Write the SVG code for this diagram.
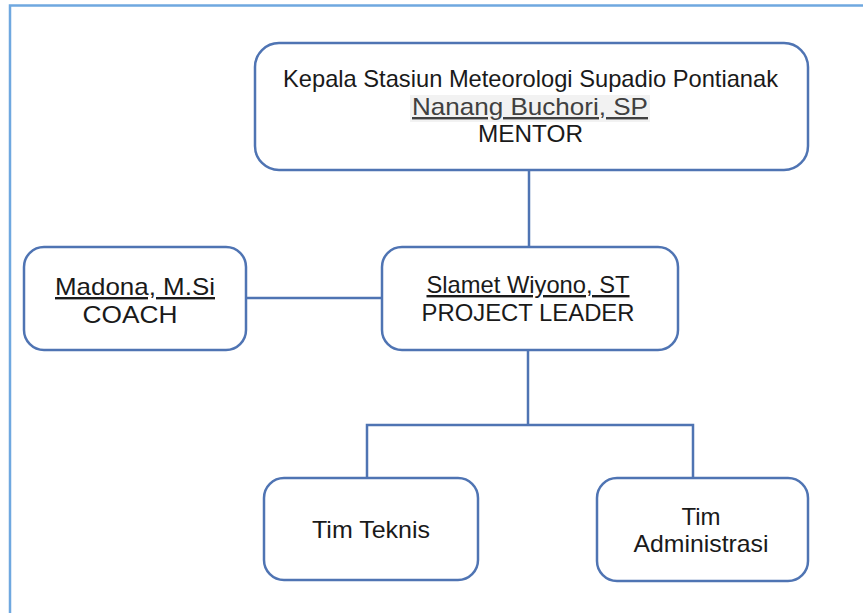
<svg xmlns="http://www.w3.org/2000/svg" width="863" height="613" viewBox="0 0 863 613">
  <style>
    .frame { stroke: #6fa8e0; stroke-width: 2.5; fill: none; }
    .box { fill: #ffffff; stroke: #4f74b3; stroke-width: 2.5; }
    .link { stroke: #4f74b3; stroke-width: 2.5; fill: none; }
    text { font-family: "Liberation Sans", Arial, sans-serif; font-size: 24px; fill: #1a1a1a; text-anchor: middle; }
    .name { text-decoration: underline; }
    .grey { fill: #404040; }
  </style>
  <rect x="0" y="0" width="863" height="613" fill="#ffffff"/>
  <!-- page frame: top and left edges only -->
  <path class="frame" d="M10 613 V5.5 H863"/>

  <g id="connectors">
    <path class="link" d="M529 170 V247"/>
    <path class="link" d="M247 298 H382"/>
    <path class="link" d="M528 350 V425"/>
    <path class="link" d="M367 478 V425 H693 V478"/>
  </g>

  <g id="mentor">
    <rect class="box" x="255" y="43" width="553" height="127" rx="24"/>
    <text x="530.5" y="87" textLength="495" lengthAdjust="spacingAndGlyphs">Kepala Stasiun Meteorologi Supadio Pontianak</text>
    <rect x="410" y="95" width="240" height="27" fill="#f2f2f2"/>
    <text class="name grey" x="530" y="115" font-size="25" textLength="236" lengthAdjust="spacingAndGlyphs">Nanang Buchori, SP</text>
    <text x="530.5" y="142" textLength="105" lengthAdjust="spacingAndGlyphs">MENTOR</text>
  </g>

  <g id="coach">
    <rect class="box" x="24" y="247" width="222" height="103" rx="20"/>
    <text class="name" x="135" y="295" font-size="26" textLength="160" lengthAdjust="spacingAndGlyphs">Madona, M.Si</text>
    <text x="130" y="323" font-size="26" textLength="95" lengthAdjust="spacingAndGlyphs">COACH</text>
  </g>

  <g id="project-leader">
    <rect class="box" x="382" y="247" width="296" height="103" rx="20"/>
    <text class="name" x="528" y="293" textLength="203" lengthAdjust="spacingAndGlyphs">Slamet Wiyono, ST</text>
    <text x="528" y="321" textLength="213" lengthAdjust="spacingAndGlyphs">PROJECT LEADER</text>
  </g>

  <g id="tim-teknis">
    <rect class="box" x="264" y="478" width="214" height="102" rx="20"/>
    <text x="371" y="538" textLength="118" lengthAdjust="spacingAndGlyphs">Tim Teknis</text>
  </g>

  <g id="tim-administrasi">
    <rect class="box" x="597" y="478" width="211" height="103" rx="20"/>
    <text x="701" y="525">Tim</text>
    <text x="701" y="552" textLength="135" lengthAdjust="spacingAndGlyphs">Administrasi</text>
  </g>
</svg>
